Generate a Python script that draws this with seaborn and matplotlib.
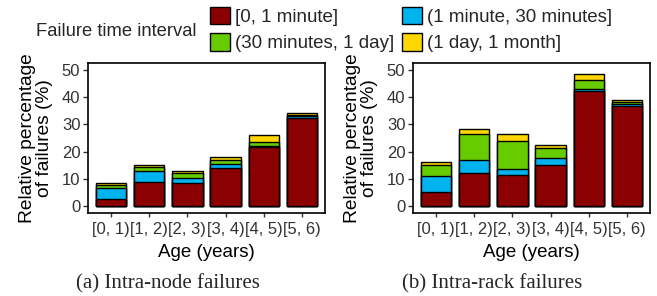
import numpy as np
import pandas as pd
import matplotlib
matplotlib.use("Agg")
import matplotlib.pyplot as plt
import seaborn as sns
from matplotlib.patches import Patch

sns.set_theme(style="white")
plt.rcParams['font.family'] = ['Liberation Sans', 'DejaVu Sans']

ages = ["[0, 1)", "[1, 2)", "[2, 3)", "[3, 4)", "[4, 5)", "[5, 6)"]
intervals = ["[0, 1 minute]", "(1 minute, 30 minutes]", "(30 minutes, 1 day]", "(1 day, 1 month]"]
colors = ["#8B0000", "#00B2EE", "#66CC00", "#FFD700"]

# Intra-node failures (%), per interval segment
node_min = [2.8, 8.9, 8.5, 14.0, 21.7, 32.3]
node_30min = [3.8, 3.9, 2.0, 1.5, 0.5, 0.6]
node_day = [1.2, 1.5, 1.5, 1.3, 1.3, 0.5]
node_month = [0.6, 0.7, 0.8, 1.2, 2.5, 0.7]

# Intra-rack failures (%), per interval segment
rack_min = [5.1, 12.0, 11.6, 15.2, 42.1, 36.8]
rack_30min = [5.9, 5.1, 2.2, 2.5, 0.8, 0.8]
rack_day = [4.1, 9.4, 10.0, 3.5, 3.2, 0.7]
rack_month = [1.0, 1.8, 2.5, 1.1, 2.3, 0.8]

panels = [
    ("(a) Intra-node failures", [node_min, node_30min, node_day, node_month]),
    ("(b) Intra-rack failures", [rack_min, rack_30min, rack_day, rack_month]),
]

W, H = 657, 296
fig = plt.figure(figsize=(W / 100, H / 100), dpi=100)
ax_lefts = [88, 413]
tick_col = "#333333"

for (caption, series), xl in zip(panels, ax_lefts):
    ax = fig.add_axes([xl / W, 1 - 213 / H, 237 / W, 150 / H])
    cum = np.cumsum(np.array(series), axis=0)
    # draw tallest cumulative first so lower segments overlay
    for k in range(len(series) - 1, -1, -1):
        df = pd.DataFrame({"age": ages, "val": cum[k]})
        sns.barplot(data=df, x="age", y="val", color=colors[k], saturation=1,
                    edgecolor="black", linewidth=1.0, width=0.8, ax=ax, errorbar=None)
    ax.set_xlim(-0.6, 5.6)
    ax.set_ylim(-2.5, 52.5)
    ax.set_yticks([0, 10, 20, 30, 40, 50])
    ax.set_xlabel("Age (years)", fontsize=13.5, labelpad=5, color="black")
    ax.set_ylabel("Relative percentage\nof failures (%)", fontsize=13.8,
                  linespacing=1.0, labelpad=6, color="black")
    ax.tick_params(axis="y", labelsize=12, colors=tick_col, length=3.5, width=1, pad=2,
                   left=True, direction="out")
    ax.tick_params(axis="x", labelsize=12, colors=tick_col, length=3, width=1, pad=3.5,
                   bottom=True, direction="out")
    for lab in ax.get_xticklabels() + ax.get_yticklabels():
        lab.set_color(tick_col)
    for s in ax.spines.values():
        s.set_visible(True)
        s.set_color("black")
        s.set_linewidth(1.2)
    cx = (xl + 118.5 - 39) / W
    fig.text(cx, 1 - 284 / H, caption, ha="center", va="center", fontsize=15,
             family=["Liberation Serif", "DejaVu Serif"])

fig.text(36 / W, 1 - 31 / H, "Failure time interval", fontsize=13.2, ha="left", va="center")
handles = [Patch(facecolor=c, edgecolor="black", linewidth=1) for c in colors]
order = [0, 2, 1, 3]
fig.legend([handles[i] for i in order], [intervals[i] for i in order], ncol=2,
           loc="upper left", bbox_to_anchor=(210 / W, 1 - 7 / H), frameon=False,
           fontsize=13.5, handlelength=1.05, handleheight=1.05, handletextpad=0.3,
           columnspacing=0.4, labelspacing=0.38, borderpad=0, borderaxespad=0)

fig.savefig("out.png", dpi=100)
